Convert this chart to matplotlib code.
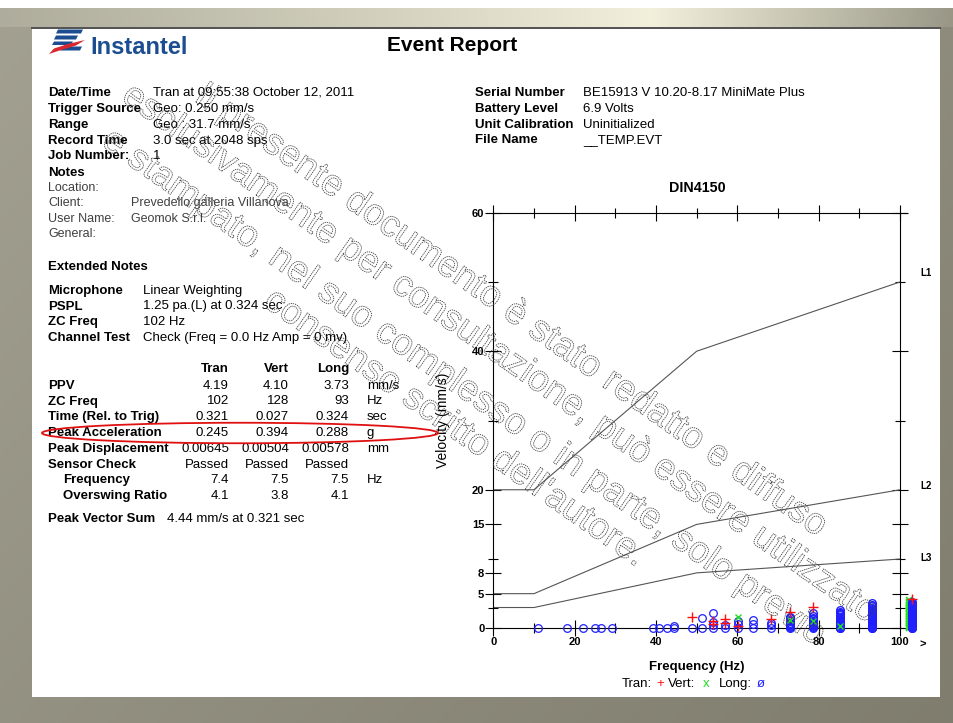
import numpy as np
import matplotlib
matplotlib.use("Agg")
import matplotlib.pyplot as plt
from matplotlib.patches import Rectangle, Ellipse, Polygon, PathPatch
from matplotlib.textpath import TextPath
from matplotlib.font_manager import FontProperties
from matplotlib.transforms import Affine2D

plt.rcParams['font.family'] = ['Liberation Sans', 'DejaVu Sans']

W, H = 954, 723

# ---- report text ----
header_left = [("Date/Time", "Tran at 09:55:38 October 12, 2011"),
               ("Trigger Source", "Geo: 0.250 mm/s"),
               ("Range", "Geo : 31.7 mm/s"),
               ("Record Time", "3.0 sec at 2048 sps"),
               ("Job Number:", "1"),
               ("Notes", "")]
notes = [("Location:", ""),
         ("Client:", "Prevedello galleria Villanova"),
         ("User Name:", "Geomok S.r.l."),
         ("General:", "")]
header_right = [("Serial Number", "BE15913 V 10.20-8.17 MiniMate Plus"),
                ("Battery Level", "6.9 Volts"),
                ("Unit Calibration", "Uninitialized"),
                ("File Name", "__TEMP.EVT")]
ext_notes = [("Microphone", "Linear Weighting"),
             ("PSPL", "1.25 pa.(L) at 0.324 sec"),
             ("ZC Freq", "102 Hz"),
             ("Channel Test", "Check (Freq = 0.0 Hz Amp = 0 mv)")]
channels = ["Tran", "Vert", "Long"]
table_rows = [("PPV", ["4.19", "4.10", "3.73"], "mm/s"),
              ("ZC Freq", ["102", "128", "93"], "Hz"),
              ("Time (Rel. to Trig)", ["0.321", "0.027", "0.324"], "sec"),
              ("Peak Acceleration", ["0.245", "0.394", "0.288"], "g"),
              ("Peak Displacement", ["0.00645", "0.00504", "0.00578"], "mm"),
              ("Sensor Check", ["Passed", "Passed", "Passed"], ""),
              ("  Frequency", ["7.4", "7.5", "7.5"], "Hz"),
              ("  Overswing Ratio", ["4.1", "3.8", "4.1"], "")]
peak_vector = "4.44 mm/s at 0.321 sec"

watermark = ["Il presente documento è stato redatto e diffuso",
             "esclusivamente per consultazione, può essere utilizzato",
             "e stampato, nel suo complesso o in parte, solo previo",
             "consenso scritto dell'autore."]

# ---- DIN4150 chart data ----
limit_f = [0, 10, 50, 100]
L1 = [20, 20, 40, 50]
L2 = [5, 5, 15, 20]
L3 = [3, 3, 8, 10]

long_f = [11.1, 18.0, 22.0, 25.0, 26.4, 29.3, 39.3, 40.8, 42.6, 44.4, 44.4, 48.8,
          51.2, 51.2, 54.1, 54.1, 54.1, 54.1, 57.0, 57.0, 60.2, 60.2, 60.2,
          63.9, 63.9, 63.9, 68.4, 68.4, 68.4]
long_v = [0, 0, 0, 0, 0.1, 0, 0, 0, 0, 0, 0.4, 0,
          1.5, 0, 2.2, 0.9, 0.5, 0, 0.5, 0, 1.0, 0.6, 0.1,
          1.2, 0.6, 0.1, 0.8, 0.5, 0.1]
stack_f = [73.0, 78.7, 85.2, 93.0, 102.9]   # last one is the ">100 Hz" bin
stack_v = [
    [0, 0.15, 0.3, 0.45, 0.6, 0.8, 1.0, 1.2, 1.45, 1.7],
    [0, 0.15, 0.3, 0.45, 0.6, 0.75, 0.9, 1.1, 1.3, 1.5, 1.8, 2.2],
    [0, 0.1, 0.2, 0.35, 0.5, 0.65, 0.8, 0.95, 1.1, 1.25, 1.4, 1.55, 1.7, 1.85,
     2.0, 2.2, 2.4, 2.6],
    [0, 0.1, 0.2, 0.3, 0.45, 0.6, 0.75, 0.9, 1.05, 1.2, 1.35, 1.5, 1.65, 1.8,
     1.95, 2.1, 2.25, 2.4, 2.55, 2.7, 2.85, 3.0, 3.2, 3.4, 3.65],
    [0, 0.1, 0.2, 0.3, 0.4, 0.5, 0.6, 0.7, 0.8, 0.9, 1.0, 1.1, 1.2, 1.3, 1.4,
     1.5, 1.6, 1.7, 1.8, 1.9, 2.0, 2.1, 2.2, 2.3, 2.4, 2.5, 2.6, 2.7, 2.8, 2.9,
     3.0, 3.1, 3.2, 3.3, 3.4, 3.5, 3.6, 3.73],
]
tran_f = [48.8, 54.1, 54.1, 57.0, 57.0, 60.2, 68.4, 73.0, 78.7, 102.9]
tran_v = [1.6, 1.1, 0.6, 1.3, 0.8, 0.4, 1.3, 2.3, 3.1, 4.19]
vert_f = [60.2, 73.0, 78.7, 85.2]
vert_v = [1.7, 1.2, 1.0, 0.4]
vert_over_f = 102.1
vert_over_v = [0, 0.2, 0.4, 0.6, 0.8, 1.0, 1.2, 1.4, 1.6, 1.8, 2.0, 2.2, 2.4,
               2.6, 2.8, 3.0, 3.2, 3.4, 3.6, 3.8, 4.1]

y_major = [0, 5, 8, 15, 20, 40, 60]
y_minor = [3, 10, 30, 50]
x_major = [0, 20, 40, 60, 80, 100]
x_minor = [10, 30, 50, 70, 90]

RED, GREEN, BLUE = '#ff1010', '#20e020', '#2020ff'
LOGO_BLUE, LOGO_RED = '#1c4d91', '#d9272e'

fig = plt.figure(figsize=(W / 100, H / 100), dpi=100)

# ---- page background ----
bg = fig.add_axes([0, 0, 1, 1], zorder=0)
yy, xx = np.mgrid[0:H, 0:W]
t = (xx + yy) / (W + H)
img = np.zeros((H, W, 3))
for c, (a, b) in enumerate([(0.64, 0.50), (0.63, 0.49), (0.57, 0.43)]):
    img[..., c] = a + (b - a) * t
band = (yy >= 8) & (yy < 27)
w = np.interp(xx, [0, 650, 954], [0.15, 1.0, 0.1])
cream = [0.95, 0.94, 0.86]
for c in range(3):
    img[..., c] = np.where(band, img[..., c] * (1 - w) + cream[c] * w, img[..., c])
img[:8] = 1.0
bg.imshow(img, extent=(0, W, H, 0), aspect='auto')
bg.set_xlim(0, W)
bg.set_ylim(H, 0)
bg.axis('off')
bg.add_patch(Rectangle((32, 27), 908, 670, fc='white', ec='none', zorder=1))
bg.plot([32, 940], [27.5, 27.5], color='#333333', lw=1.2, zorder=2)

# logo
for pts, col in [([(58, 29.5), (83, 29.5), (81, 33.5), (56, 33.5)], LOGO_BLUE),
                 ([(56, 35.5), (78, 35.5), (76, 39.5), (54, 39.5)], LOGO_BLUE),
                 ([(54, 41.5), (73, 41.5), (71, 45), (52, 45)], LOGO_BLUE),
                 ([(62, 46.5), (82, 46.5), (80, 50.5), (60, 50.5)], LOGO_BLUE),
                 ([(49, 54), (54, 48.5), (68, 44), (85, 40), (76, 45.5), (58, 51)], LOGO_RED)]:
    bg.add_patch(Polygon(pts, fc=col, ec='none', zorder=3))
bg.text(90, 53.5, "Instantel", fontsize=17, fontweight='bold', color=LOGO_BLUE, va='baseline', zorder=3)
bg.text(387, 51, "Event Report", fontsize=15, fontweight='bold', va='baseline', zorder=3)

fs = 9.5
ys = [92.7, 109, 125, 140.7, 156, 172.5]
for (lab, val), y in zip(header_left, ys):
    bg.text(48, y, lab, fontsize=fs, fontweight='bold', va='center', zorder=3)
    bg.text(153, y, val, fontsize=fs, va='center', zorder=3)
for (lab, val), y in zip(notes, [188, 203, 219, 234]):
    bg.text(48, y, lab, fontsize=9, color='#404040', va='center', zorder=3)
    bg.text(131, y, val, fontsize=9, color='#404040', va='center', zorder=3)
for (lab, val), y in zip(header_right, [93.3, 109.3, 124.5, 140]):
    bg.text(475, y, lab, fontsize=fs, fontweight='bold', va='center', zorder=3)
    bg.text(583, y, val, fontsize=fs, va='center', zorder=3)

bg.text(48, 267.5, "Extended Notes", fontsize=fs, fontweight='bold', va='center', zorder=3)
for (lab, val), y in zip(ext_notes, [290.7, 306.5, 322, 337.7]):
    bg.text(48, y, lab, fontsize=fs, fontweight='bold', va='center', zorder=3)
    bg.text(143, y, val, fontsize=fs, va='center', zorder=3)

col_x = [229, 289, 349]
for ch, x in zip(channels, col_x):
    bg.text(x, 369, ch, fontsize=fs, fontweight='bold', ha='right', va='center', zorder=3)
for (lab, vals, unit), y in zip(table_rows, [385.7, 401.5, 417, 432.7, 449, 464.5, 480, 495.7]):
    x0 = 48
    if lab.startswith("  "):
        x0, lab = 63, lab.strip()
    bg.text(x0, y, lab, fontsize=fs, fontweight='bold', va='center', zorder=3)
    for v, x in zip(vals, col_x):
        bg.text(x, y, v, fontsize=fs, ha='right', va='center', zorder=3)
    bg.text(367, y, unit, fontsize=fs, va='center', zorder=3)
bg.text(48, 518.5, "Peak Vector Sum", fontsize=fs, fontweight='bold', va='center', zorder=3)
bg.text(167, 518.5, peak_vector, fontsize=fs, va='center', zorder=3)
bg.add_patch(Ellipse((240, 433), 396, 20.5, fc='none', ec='#e01010', lw=1.3, zorder=4))

# chart labels around the axes
bg.text(697, 188, "DIN4150", fontsize=10.3, fontweight='bold', ha='center', va='center', zorder=3)
bg.text(697, 667, "Frequency (Hz)", fontsize=9.5, fontweight='bold', ha='center', va='center', zorder=3)
bg.text(443, 420, "Velocity (mm/s)", fontsize=10, rotation=90, ha='center', va='center', zorder=3)
for txt, x, col in [("Tran:", 622, 'black'), ("+", 656, RED), ("Vert:", 668, 'black'),
                    ("x", 703, GREEN), ("Long:", 719, 'black'), ("ø", 757, BLUE)]:
    bg.text(x, 684, txt, fontsize=9.5, color=col, va='center', zorder=3)

# ---- chart ----
ax = fig.add_axes([493.3 / W, (H - 628.3) / H, (900 - 493.3) / W, (628.3 - 212.7) / H], zorder=2)
ax.patch.set_alpha(0)
ax.set_xlim(0, 100)
ax.set_ylim(0, 60)
for name, sp in ax.spines.items():
    sp.set_linewidth(0.8)
ax.axhline(60, 1, 1.016, color='black', lw=0.8, clip_on=False)
ax.axhline(0, 1, 1.016, color='black', lw=0.8, clip_on=False)

for yv in (L1, L2, L3):
    ax.plot(limit_f, yv, color='#555555', lw=0.8)

ax.set_xticks(x_major)
ax.set_xticks(x_minor, minor=True)
ax.set_yticks(y_major)
ax.set_yticks(y_minor, minor=True)
ax.tick_params(which='both', direction='inout', top=True, right=True, width=0.8)
ax.tick_params(which='major', length=11, labelsize=8, pad=1)
ax.tick_params(which='minor', length=7)
for lab in ax.get_xticklabels() + ax.get_yticklabels():
    lab.set_fontweight('bold')

ax.plot(long_f, long_v, 'o', ms=5.5, mfc='none', mec=BLUE, mew=0.9, clip_on=False, zorder=3)
for f, vs in zip(stack_f, stack_v):
    ax.plot([f] * len(vs), vs, 'o', ms=5.5, mfc='none', mec=BLUE, mew=1.0, clip_on=False, zorder=3)
ax.plot([vert_over_f] * len(vert_over_v), vert_over_v, 'x', ms=4, mec=GREEN, mew=1.2, clip_on=False, zorder=2)
ax.plot(vert_f, vert_v, 'x', ms=5, mec=GREEN, mew=1.0, clip_on=False, zorder=4)
ax.plot(tran_f, tran_v, '+', ms=6.5, mec=RED, mew=1.0, clip_on=False, zorder=4)

for lab, yv in [("L1", 51.3), ("L2", 20.5), ("L3", 10.2)]:
    ax.annotate(lab, (1, yv), xycoords=('axes fraction', 'data'), xytext=(14.5, 0),
                textcoords='offset points', fontsize=7, fontweight='bold', va='center')
ax.annotate(">", (1, 0), xycoords='axes fraction', xytext=(14, -12),
            textcoords='offset points', fontsize=8, fontweight='bold', va='center')

# ---- watermark overlay ----
ov = fig.add_axes([0, 0, 1, 1], zorder=5)
ov.set_xlim(0, W)
ov.set_ylim(H, 0)
ov.axis('off')
ov.patch.set_alpha(0)
fp = FontProperties(family='Liberation Sans')
for txt, (x0, y0) in zip(watermark, [(193, 100), (120, 100), (100, 145), (262, 305)]):
    tp = TextPath((0, 0), txt, size=37, prop=fp)
    tr = Affine2D().scale(1, -1).rotate_deg(35).translate(x0, y0) + ov.transData
    ov.add_patch(PathPatch(tp, transform=tr, fc='none', ec='#444444', lw=0.6,
                           ls=(0, (1.6, 1.0))))

fig.savefig("out.png", dpi=100)
